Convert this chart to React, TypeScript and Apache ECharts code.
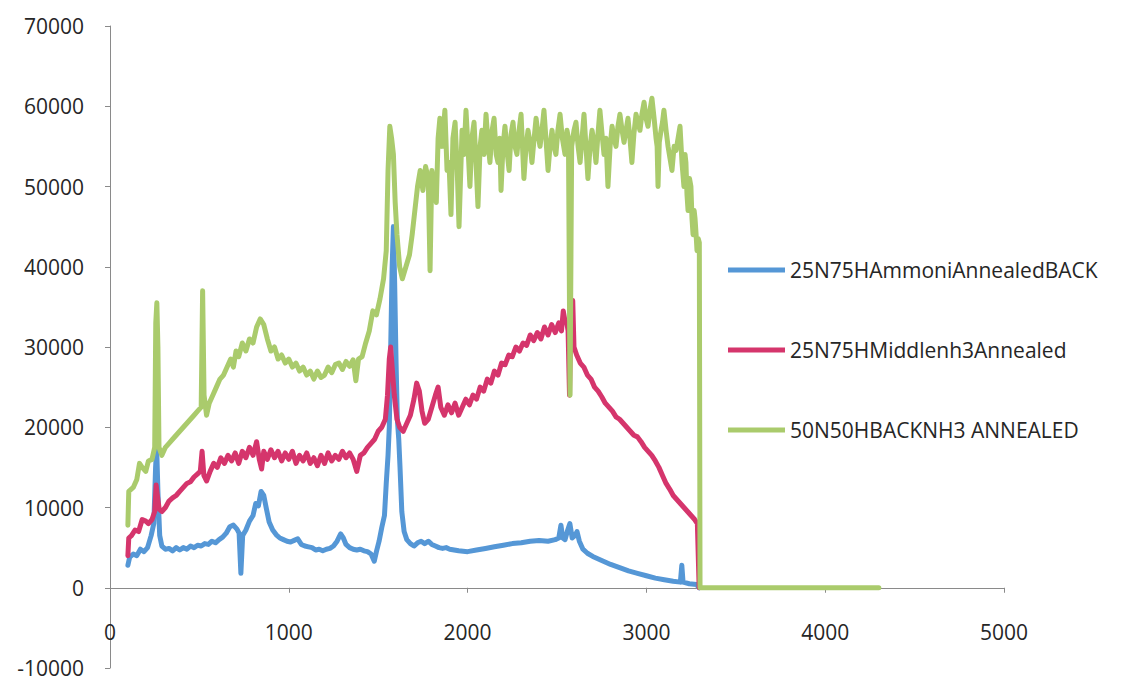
import React, { useEffect, useRef } from "react";
import * as echarts from "echarts";

const seriesNames = ["25N75HAmmoniAnnealedBACK", "25N75HMiddlenh3Annealed", "50N50HBACKNH3 ANNEALED"];
const seriesColors = ["#5597d6", "#d5356c", "#aacb6c"];

const xTicks = { min: 0, max: 5000, interval: 1000 };
const yTicks = { min: -10000, max: 70000, interval: 10000 };

const ammoniBack: [number, number][] = [
  [100, 2800], [110, 3800], [130, 4200], [150, 4000], [170, 4800], [190, 4500], [210, 5000], [230, 6500],
  [245, 8000], [255, 15000], [261, 17500], [268, 12000], [278, 6500], [290, 5200], [310, 4800], [330, 4900],
  [350, 4600], [370, 5000], [390, 4700], [410, 5000], [430, 4800], [450, 5200], [470, 5000], [490, 5300],
  [510, 5200], [530, 5500], [550, 5400], [570, 5800], [590, 5600], [610, 6000], [630, 6300], [650, 6800],
  [670, 7600], [690, 7800], [710, 7300], [722, 6800], [732, 1800], [742, 6500], [760, 7200], [780, 8300],
  [800, 9000], [815, 10500], [830, 10200], [845, 12000], [860, 11500], [875, 9800], [890, 8200], [910, 7200],
  [930, 6600], [950, 6200], [970, 6000], [990, 5800], [1010, 5700], [1030, 5900], [1050, 6100], [1070, 5400],
  [1090, 5200], [1110, 5100], [1130, 5000], [1150, 4700], [1170, 4800], [1190, 4600], [1210, 4800], [1230, 4900],
  [1250, 5200], [1270, 5800], [1290, 6700], [1305, 6200], [1320, 5400], [1340, 5000], [1360, 4800], [1380, 4700],
  [1400, 4800], [1420, 4600], [1440, 4500], [1460, 4200], [1478, 3300], [1490, 4500], [1505, 5800], [1520, 7500],
  [1535, 9000], [1545, 13000], [1555, 16500], [1562, 20000], [1570, 30000], [1578, 40000], [1585, 45000], [1592, 38000],
  [1600, 28000], [1607, 21000], [1615, 18500], [1622, 15000], [1632, 9500], [1645, 7000], [1660, 6000], [1680, 5500],
  [1700, 5200], [1720, 5600], [1740, 5800], [1760, 5500], [1780, 5800], [1800, 5400], [1820, 5200], [1840, 5000],
  [1860, 4900], [1880, 5000], [1900, 4800], [1950, 4600], [2000, 4500], [2050, 4700], [2100, 4900], [2150, 5100],
  [2200, 5300], [2250, 5500], [2300, 5600], [2350, 5800], [2400, 5900], [2450, 5800], [2490, 6000], [2510, 6200],
  [2522, 7800], [2532, 6200], [2545, 6000], [2560, 7200], [2572, 8000], [2585, 6200], [2600, 6500], [2612, 7000],
  [2625, 5800], [2645, 4800], [2670, 4300], [2700, 3900], [2750, 3400], [2800, 2900], [2850, 2500], [2900, 2100],
  [2950, 1800], [3000, 1500], [3050, 1200], [3100, 1000], [3150, 800], [3190, 700], [3198, 2800], [3205, 700],
  [3240, 500], [3280, 400], [3295, 0],
];

const middleNh3: [number, number][] = [
  [100, 4000], [105, 6200], [120, 6500], [140, 7200], [160, 7000], [180, 8500], [200, 8300], [215, 8000],
  [235, 8500], [250, 9500], [258, 12800], [265, 11500], [275, 9800], [290, 9500], [310, 10000], [330, 10800],
  [350, 11200], [370, 11500], [390, 12000], [410, 12500], [430, 13000], [450, 13200], [470, 13800], [490, 14200],
  [505, 14500], [515, 17000], [525, 14000], [540, 13300], [560, 14500], [580, 15500], [600, 15000], [620, 16200],
  [640, 15500], [660, 16500], [680, 15800], [700, 16800], [720, 15500], [740, 17000], [760, 16200], [780, 17500],
  [800, 16500], [820, 18200], [835, 16000], [848, 14800], [860, 17000], [880, 16000], [900, 17200], [920, 16200],
  [940, 17000], [960, 15800], [980, 16800], [1000, 16000], [1020, 17000], [1040, 15500], [1060, 16500], [1080, 15800],
  [1100, 16800], [1120, 15500], [1140, 16200], [1160, 15200], [1180, 16500], [1200, 15500], [1220, 16800], [1240, 15800],
  [1260, 16500], [1280, 16000], [1300, 17000], [1320, 16200], [1340, 16800], [1360, 16000], [1380, 14500], [1400, 16500],
  [1420, 16800], [1440, 17500], [1460, 18000], [1480, 18500], [1500, 19500], [1520, 20000], [1540, 21000], [1552, 24000],
  [1562, 28500], [1570, 30000], [1578, 27500], [1590, 24000], [1605, 21000], [1620, 20000], [1640, 19500], [1660, 20500],
  [1680, 21500], [1700, 23500], [1715, 25500], [1730, 24500], [1745, 22000], [1760, 20500], [1780, 21000], [1800, 22500],
  [1820, 24000], [1835, 25000], [1850, 22500], [1870, 21500], [1890, 22800], [1910, 21800], [1930, 23000], [1950, 21500],
  [1970, 22500], [1990, 23500], [2010, 22800], [2030, 24000], [2050, 23500], [2070, 25000], [2090, 24500], [2110, 26000],
  [2130, 25500], [2150, 27000], [2170, 26500], [2190, 28000], [2210, 27800], [2230, 29000], [2250, 28800], [2270, 30000],
  [2290, 29500], [2310, 30500], [2330, 30200], [2350, 31500], [2370, 30800], [2390, 31800], [2410, 31000], [2430, 32500],
  [2450, 31500], [2470, 32800], [2490, 31800], [2510, 33000], [2525, 32000], [2535, 34500], [2545, 33200], [2555, 33000],
  [2562, 32000], [2570, 24000], [2578, 34500], [2588, 35800], [2595, 30000], [2610, 29000], [2630, 28000], [2650, 27500],
  [2670, 26500], [2690, 26000], [2710, 25000], [2730, 24500], [2750, 23800], [2770, 23000], [2790, 22500], [2810, 22000],
  [2830, 21300], [2850, 21000], [2870, 20500], [2890, 20000], [2910, 19500], [2930, 19000], [2950, 18800], [2970, 18200],
  [2990, 17500], [3010, 17000], [3030, 16500], [3050, 15800], [3070, 15000], [3090, 14000], [3110, 13000], [3130, 12300],
  [3150, 11500], [3170, 11000], [3190, 10500], [3210, 10000], [3230, 9500], [3250, 9000], [3270, 8500], [3285, 8000],
  [3295, 0],
];

const backNh3: [number, number][] = [
  [100, 7800], [105, 12000], [130, 12500], [150, 13500], [165, 15500], [180, 15000], [200, 14500], [215, 15800],
  [235, 16000], [250, 17500], [256, 33000], [262, 35500], [268, 30000], [274, 17500], [290, 16500], [310, 17500],
  [330, 18000], [350, 18500], [370, 19000], [390, 19500], [410, 20000], [430, 20500], [450, 21000], [470, 21500],
  [490, 22000], [510, 22500], [518, 37000], [526, 24000], [540, 21500], [555, 23000], [575, 24000], [595, 25000],
  [615, 26000], [635, 26500], [655, 27500], [675, 28500], [690, 27500], [705, 29500], [720, 28800], [740, 30500],
  [760, 29500], [780, 31000], [800, 30500], [820, 32500], [840, 33500], [860, 32800], [880, 31000], [900, 29500],
  [920, 30000], [940, 28500], [960, 29000], [980, 28000], [1000, 28500], [1020, 27500], [1040, 28000], [1060, 27000],
  [1080, 27500], [1100, 26500], [1120, 27000], [1140, 26000], [1160, 27000], [1180, 26200], [1200, 26500], [1220, 27500],
  [1240, 26800], [1260, 27800], [1280, 28000], [1300, 27200], [1320, 28200], [1340, 27600], [1360, 28400], [1375, 25800],
  [1390, 28500], [1410, 28800], [1430, 30500], [1450, 32000], [1470, 34500], [1490, 34000], [1510, 36000], [1530, 38500],
  [1545, 42000], [1555, 52000], [1565, 57500], [1575, 56000], [1585, 54000], [1595, 48000], [1605, 44000], [1620, 40000],
  [1635, 38500], [1655, 40000], [1675, 41500], [1690, 44000], [1705, 47000], [1720, 50000], [1735, 52000], [1750, 49500],
  [1765, 52500], [1780, 51000], [1790, 39500], [1800, 52000], [1815, 50000], [1825, 48000], [1835, 56000], [1845, 58500],
  [1857, 55000], [1873, 59500], [1885, 52000], [1896, 53000], [1907, 46500], [1918, 56000], [1930, 58000], [1942, 52000],
  [1952, 45000], [1969, 57000], [1980, 54000], [1991, 59500], [2002, 55000], [2013, 50000], [2024, 56000], [2036, 58000],
  [2047, 53000], [2058, 47500], [2070, 55000], [2080, 57000], [2092, 54000], [2103, 59000], [2114, 55500], [2125, 53000],
  [2137, 57000], [2148, 58500], [2160, 54000], [2170, 53000], [2180, 56000], [2187, 49500], [2198, 55000], [2209, 57500],
  [2220, 54500], [2232, 52000], [2243, 56500], [2254, 58000], [2265, 55000], [2276, 54000], [2288, 57000], [2299, 59000],
  [2307, 55000], [2315, 51000], [2327, 55000], [2338, 57000], [2349, 55500], [2360, 53000], [2372, 56000], [2383, 58500],
  [2394, 56500], [2405, 55000], [2416, 57000], [2427, 59500], [2438, 56000], [2450, 52000], [2461, 55000], [2472, 57000],
  [2483, 55000], [2494, 54000], [2505, 57000], [2517, 59000], [2530, 56000], [2545, 54000], [2556, 57000], [2564, 56000],
  [2573, 24000], [2582, 55000], [2595, 57000], [2606, 58000], [2618, 55000], [2629, 53000], [2640, 56000], [2651, 59000],
  [2662, 55000], [2673, 51000], [2685, 55000], [2696, 57000], [2707, 55500], [2718, 53000], [2729, 56500], [2740, 59500],
  [2752, 56500], [2763, 54000], [2774, 56000], [2785, 50000], [2797, 55000], [2808, 57500], [2819, 56000], [2830, 55000],
  [2841, 57500], [2852, 59000], [2864, 57000], [2875, 55500], [2886, 57000], [2897, 58500], [2908, 56000], [2919, 53000],
  [2930, 56500], [2942, 59000], [2953, 58000], [2964, 57000], [2975, 59000], [2987, 60500], [2998, 58500], [3009, 57500],
  [3020, 59500], [3031, 61000], [3043, 58500], [3054, 56000], [3060, 55000], [3065, 50000], [3072, 55500], [3082, 57000],
  [3090, 58000], [3098, 59500], [3110, 57000], [3121, 55000], [3132, 53500], [3143, 52000], [3155, 55000], [3166, 54500],
  [3177, 56000], [3188, 57500], [3199, 53000], [3210, 50000], [3216, 54000], [3221, 53000], [3227, 49000], [3233, 47000],
  [3241, 51000], [3249, 50000], [3255, 46000], [3261, 44000], [3267, 47000], [3272, 46000], [3278, 44000], [3283, 42000],
  [3290, 43500], [3296, 43000], [3300, 0], [4300, 0],
];

const seriesData = [ammoniBack, middleNh3, backNh3];

const GRID_TOP = 26;
const GRID_BOTTOM = 15;
const CHART_H = 683;

export default function App() {
  const ref = useRef<HTMLDivElement>(null);
  useEffect(() => {
    document.body.style.margin = "0";
    if (!ref.current) return;
    const chart = echarts.init(ref.current, undefined, { renderer: "svg" });
    const font = "'Open Sans', 'Noto Sans', sans-serif";
    const plotH = CHART_H - GRID_TOP - GRID_BOTTOM;
    // distance from the bottom of the grid up to the y = 0 line
    const zeroOffset = (plotH * (0 - yTicks.min)) / (yTicks.max - yTicks.min);
    chart.setOption({
      animation: false,
      backgroundColor: "#ffffff",
      grid: { left: 110, right: 123, top: GRID_TOP, bottom: GRID_BOTTOM, containLabel: false, outerBoundsMode: "none" },
      legend: {
        orient: "vertical",
        left: 723,
        top: 253,
        itemGap: 56,
        itemWidth: 57,
        itemHeight: 5,
        icon: "rect",
        textStyle: { fontFamily: font, fontSize: 21, color: "#262626", lineHeight: 24, padding: [0, 0, 0, 0] },
        data: seriesNames,
      },
      xAxis: {
        type: "value",
        min: xTicks.min,
        max: xTicks.max,
        interval: xTicks.interval,
        position: "bottom",
        offset: -zeroOffset,
        axisLine: { onZero: false, lineStyle: { color: "#8a8a8a", width: 1 } },
        axisTick: { show: true, inside: false, length: 5, lineStyle: { color: "#8a8a8a" } },
        axisLabel: { margin: 34, fontFamily: font, fontSize: 21, lineHeight: 20, color: "#262626", formatter: (v: number) => String(v) },
        splitLine: { show: false },
      },
      yAxis: {
        type: "value",
        min: yTicks.min,
        max: yTicks.max,
        interval: yTicks.interval,
        axisLine: { show: true, onZero: false, lineStyle: { color: "#8a8a8a", width: 1 } },
        axisTick: { show: true, inside: false, length: 5, lineStyle: { color: "#8a8a8a" } },
        axisLabel: { margin: 26, fontFamily: font, fontSize: 21, lineHeight: 20, color: "#262626", formatter: (v: number) => String(v) },
        splitLine: { show: false },
      },
      series: seriesNames.map((name, i) => ({
        name,
        type: "line",
        data: seriesData[i],
        showSymbol: false,
        symbol: "none",
        color: seriesColors[i],
        lineStyle: { width: 5, color: seriesColors[i], cap: "round", join: "round" },
      })),
    });
    return () => chart.dispose();
  }, []);
  return <div ref={ref} style={{ width: 1127, height: 683 }} />;
}
